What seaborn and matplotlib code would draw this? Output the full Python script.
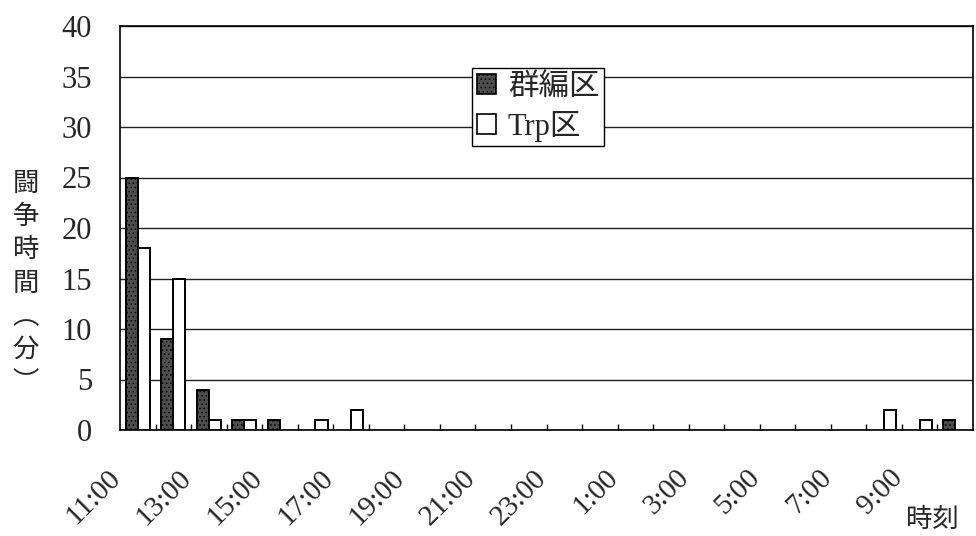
import matplotlib
matplotlib.use("Agg")
import matplotlib.pyplot as plt
from matplotlib.patches import Patch
import numpy as np
import pandas as pd
import seaborn as sns

# Hourly observation slots, 11:00 through 10:00 of the following day
hours = ["11:00", "12:00", "13:00", "14:00", "15:00", "16:00", "17:00", "18:00",
         "19:00", "20:00", "21:00", "22:00", "23:00", "0:00", "1:00", "2:00",
         "3:00", "4:00", "5:00", "6:00", "7:00", "8:00", "9:00", "10:00"]
series_names = ["群編区", "Trp区"]
# Fighting time (minutes) per hour
group_minutes = [25, 9, 4, 1, 1, 0, 0, 0, 0, 0, 0, 0,
                 0, 0, 0, 0, 0, 0, 0, 0, 0, 0, 0, 1]
trp_minutes = [18, 15, 1, 1, 0, 1, 2, 0, 0, 0, 0, 0,
               0, 0, 0, 0, 0, 0, 0, 0, 0, 2, 1, 0]
y_ticks = [0, 5, 10, 15, 20, 25, 30, 35, 40]

df = pd.DataFrame({
    "時刻": hours * 2,
    "区": [series_names[0]] * len(hours) + [series_names[1]] * len(hours),
    "分": group_minutes + trp_minutes,
})

sns.set_theme(style="white")
serif = ["Liberation Serif", "Noto Sans CJK JP"]
sans_jp = ["Noto Sans CJK JP", "DejaVu Sans"]
plt.rcParams["font.family"] = sans_jp
plt.rcParams["hatch.color"] = "#8a8a8a"
plt.rcParams["hatch.linewidth"] = 0.6

fig = plt.figure(figsize=(9.76, 5.36), dpi=100)
ax = fig.add_axes([120 / 976, 106 / 536, 853 / 976, 404 / 536])

dark = "#4e4e4e"
sns.barplot(data=df, x="時刻", y="分", hue="区", order=hours,
            hue_order=series_names, palette=[dark, "white"],
            width=0.68, saturation=1, edgecolor="black", linewidth=1.4,
            legend=False, ax=ax, zorder=3)

# Drop outlines for zero-height bars; stipple the dark series
n = len(hours)
for k, p in enumerate(ax.patches):
    if p.get_height() == 0:
        p.set_visible(False)
    elif k < n:
        p.set_hatch("....")

ax.set_xlim(-0.5, n - 0.5)
ax.set_ylim(0, 40)
ax.set_yticks(y_ticks)
ax.set_yticklabels([str(v) for v in y_ticks], family=serif, fontsize=22)
ax.yaxis.grid(True, color="#222222", linewidth=1.0, zorder=0)
ax.xaxis.grid(False)
ax.tick_params(axis="y", length=0, pad=20)

# Labels on every second hour, set diagonally below the axis
major = np.arange(0, n, 2)
ax.set_xticks(major)
ax.set_xticklabels([])
for i in major:
    ax.annotate(hours[i], xy=(i, 0), xycoords=("data", "axes fraction"),
                xytext=(-22, -25), textcoords="offset points",
                rotation=45, ha="right", va="top", rotation_mode="anchor",
                family=serif, fontsize=21, annotation_clip=False)
ax.set_xticks(np.arange(0.5, n - 0.5, 1), minor=True)
ax.tick_params(axis="x", which="major", length=0)
ax.tick_params(axis="x", which="minor", direction="in", length=4,
               width=1, color="black", bottom=True)

for s in ax.spines.values():
    s.set_visible(True)
    s.set_color("black")
    s.set_linewidth(1.2)

ax.set_xlabel("")
ax.set_ylabel("")

# Vertical y-axis title
fig.text(26 / 976, 1 - 283 / 536, "\n".join("闘争時間︵分︶"), ha="center",
         va="center", fontsize=19, linespacing=1.3, family=sans_jp)
fig.text(932 / 976, 1 - 519 / 536, "時刻", ha="center", va="center",
         fontsize=19, family=sans_jp)

handles = [Patch(facecolor=dark, edgecolor="black", linewidth=1.2, hatch="...."),
           Patch(facecolor="white", edgecolor="black", linewidth=1.2)]
leg = ax.legend(handles, series_names, loc="upper left",
                bbox_to_anchor=((472 - 120) / 853, (430 - 68) / 404),
                frameon=True, fancybox=False, framealpha=1, edgecolor="black",
                handlelength=0.62, handleheight=0.62, handletextpad=0.4,
                borderpad=0.15, labelspacing=0.3, borderaxespad=0,
                prop={"family": serif, "size": 22})
leg.get_frame().set_linewidth(1.0)
leg.set_zorder(5)

fig.savefig("out.png", dpi=100, facecolor="white")
